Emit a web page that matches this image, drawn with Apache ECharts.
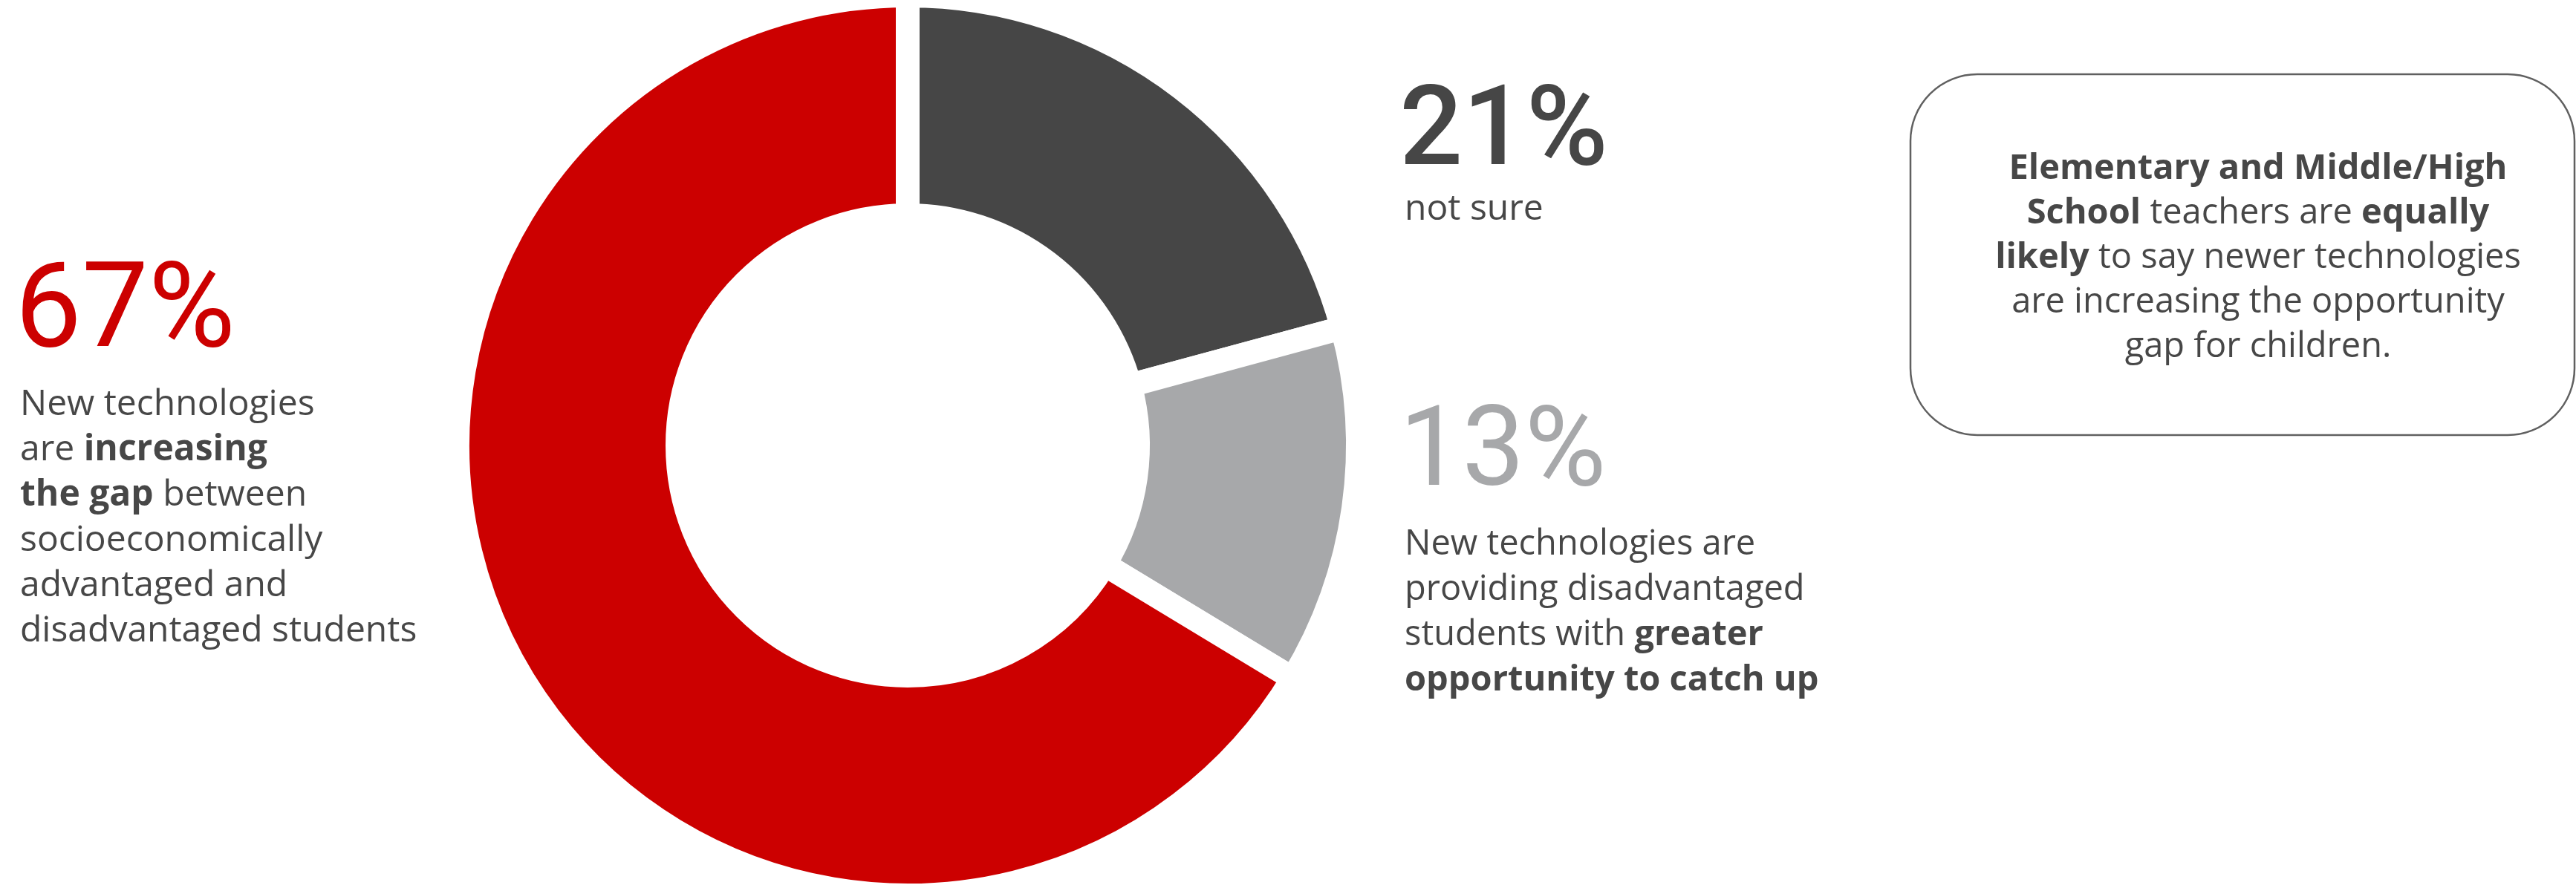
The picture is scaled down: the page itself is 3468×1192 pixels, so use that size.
<!DOCTYPE html>
<html>
<head>
<meta charset="utf-8">
<script src="https://cdn.jsdelivr.net/npm/echarts@6/dist/echarts.min.js"></script>
<style>
  html, body { margin: 0; padding: 0; background: #fff; }
  #chart { width: 3468px; height: 1192px; }
</style>
</head>
<body>
<div id="chart"></div>
<script>
// slices, clockwise from 12 o'clock
const categories = ['not sure', 'greater opportunity to catch up', 'increasing the gap'];
const values = [21, 13, 67];
const colors = ['#464646', '#a7a8aa', '#cc0000'];

// text blocks
const leftLines = [
  'New technologies',
  'are {b|increasing}',
  '{b|the gap} between',
  'socioeconomically',
  'advantaged and',
  'disadvantaged students'
];
const notSureLines = ['not sure'];
const catchUpLines = [
  'New technologies are',
  'providing disadvantaged',
  'students with {b|greater}',
  '{b|opportunity to catch up}'
];
const boxLines = [
  '{b|Elementary and Middle/High}',
  '{b|School} teachers are {b|equally}',
  '{b|likely} to say newer technologies',
  'are increasing the opportunity',
  'gap for children.'
];

const textColor = '#474747';
const bodyFont = '"Open Sans", "Noto Sans", sans-serif';
const numFont = 'Roboto, "Open Sans", sans-serif';

function bigNumber(v, x, y, color, weight, size) {
  return {
    type: 'text',
    x: x, y: y,
    style: {
      text: v + '%',
      fill: color,
      fontFamily: numFont,
      fontSize: size || 158,
      fontWeight: weight || 400,
      verticalAlign: 'middle'
    }
  };
}

function para(lines, x, y, opts) {
  opts = opts || {};
  const size = opts.size || 48;
  const lh = opts.lineHeight || 61;
  return {
    type: 'text',
    x: x, y: y,
    style: {
      text: lines.join('\n'),
      fill: textColor,
      fontFamily: bodyFont,
      fontSize: size,
      lineHeight: lh,
      align: opts.align || 'left',
      verticalAlign: 'top',
      rich: {
        b: { fontFamily: bodyFont, fontSize: size, fontWeight: 'bold', lineHeight: lh, fill: textColor }
      }
    }
  };
}

const chart = echarts.init(document.getElementById('chart'));

chart.setOption({
  animation: false,
  series: [{
    type: 'pie',
    center: [1222, 600],
    radius: [310, 606],
    startAngle: 90,
    clockwise: true,
    silent: true,
    label: { show: false },
    labelLine: { show: false },
    itemStyle: { borderColor: '#fff', borderWidth: 32 },
    data: categories.map((c, i) => ({
      name: c,
      value: values[i],
      itemStyle: { color: colors[i] }
    }))
  }],
  graphic: [
    bigNumber(values[2], 20, 426, colors[2], 400, 160),
    para(leftLines, 27, 515),
    bigNumber(values[0], 1884, 183, colors[0], 500, 150),
    para(notSureLines, 1891, 252),
    bigNumber(values[1], 1884, 615, colors[1], 400, 150),
    para(catchUpLines, 1891, 703, { size: 47 }),
    {
      type: 'rect',
      shape: { x: 2572, y: 100, width: 894, height: 486, r: 90 },
      style: { fill: 'none', stroke: '#606060', lineWidth: 2.5 }
    },
    para(boxLines, 3040, 198, { align: 'center', lineHeight: 60, size: 47 })
  ]
});
</script>
</body>
</html>
